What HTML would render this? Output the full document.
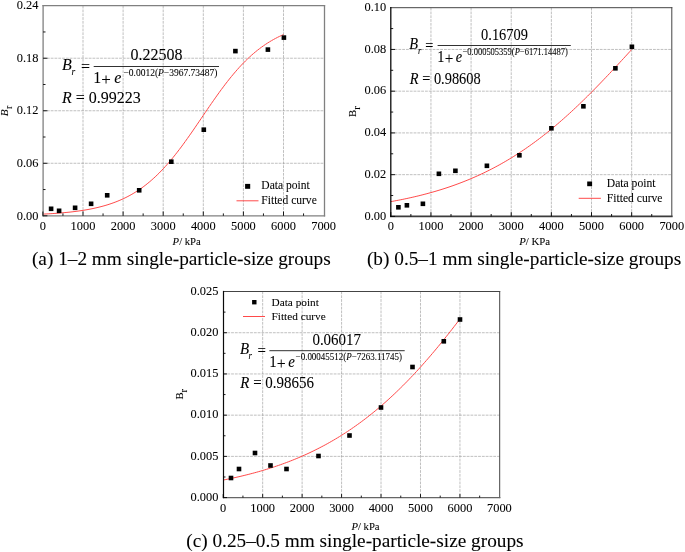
<!DOCTYPE html>
<html><head><meta charset="utf-8"><title>Fitted curves</title>
<style>
html,body{margin:0;padding:0;background:#fff;}
svg{display:block;will-change:transform;opacity:0.999;}
text{font-family:"Liberation Serif",serif;fill:#000;stroke:#000;stroke-width:0.07px;}
.it{font-style:italic;}
</style></head><body>
<svg width="685" height="552" viewBox="0 0 685 552">
<rect width="685" height="552" fill="#fff"/>
<g id="panel-a">
<path d="M83.00 5.70V215.80M123.10 5.70V215.80M163.20 5.70V215.80M203.30 5.70V215.80M243.40 5.70V215.80M283.50 5.70V215.80M43.10 163.28H324.50M43.10 110.75H324.50M43.10 58.22H324.50" fill="none" stroke="#969696" stroke-width="0.6" stroke-dasharray="2.8 1.0"/>
<path d="M42.90 214.13L44.91 214.03L46.91 213.92L48.91 213.80L50.92 213.68L52.92 213.55L54.93 213.41L56.93 213.27L58.94 213.11L60.94 212.95L62.95 212.78L64.95 212.59L66.96 212.40L68.97 212.19L70.97 211.97L72.97 211.74L74.98 211.49L76.98 211.23L78.99 210.96L81.00 210.67L83.00 210.36L85.00 210.03L87.01 209.69L89.01 209.32L91.02 208.93L93.02 208.52L95.03 208.09L97.03 207.64L99.04 207.15L101.04 206.64L103.05 206.10L105.05 205.54L107.06 204.94L109.06 204.30L111.07 203.64L113.07 202.93L115.08 202.19L117.08 201.41L119.09 200.59L121.09 199.73L123.10 198.82L125.10 197.87L127.11 196.86L129.11 195.81L131.12 194.71L133.12 193.55L135.13 192.34L137.13 191.07L139.14 189.74L141.14 188.36L143.15 186.91L145.16 185.40L147.16 183.82L149.16 182.18L151.17 180.48L153.17 178.70L155.18 176.86L157.19 174.95L159.19 172.98L161.19 170.93L163.20 168.82L165.20 166.64L167.21 164.39L169.21 162.08L171.22 159.70L173.22 157.27L175.23 154.77L177.23 152.21L179.24 149.60L181.25 146.94L183.25 144.23L185.25 141.47L187.26 138.67L189.26 135.84L191.27 132.97L193.28 130.08L195.28 127.16L197.28 124.23L199.29 121.28L201.29 118.33L203.30 115.37L205.30 112.42L207.31 109.48L209.31 106.55L211.32 103.64L213.32 100.75L215.33 97.90L217.33 95.07L219.34 92.29L221.34 89.54L223.35 86.85L225.35 84.20L227.36 81.60L229.36 79.06L231.37 76.58L233.38 74.16L235.38 71.80L237.38 69.51L239.39 67.28L241.39 65.12L243.40 63.03L245.41 61.00L247.41 59.05L249.41 57.16L251.42 55.34L253.42 53.58L255.43 51.90L257.44 50.27L259.44 48.72L261.44 47.23L263.45 45.80L265.45 44.43L267.46 43.12L269.46 41.86L271.47 40.67L273.47 39.53L275.48 38.44L277.48 37.40L279.49 36.41L281.49 35.47L283.50 34.58" fill="none" stroke="#ff4a4a" stroke-width="1"/>
<path d="M43.10 5.70H324.50" fill="none" stroke="#808080" stroke-width="1.3" stroke-linecap="square"/>
<path d="M324.50 5.70V215.80" fill="none" stroke="#808080" stroke-width="1.3" stroke-linecap="square"/>
<path d="M43.10 215.80H324.50" fill="none" stroke="#808080" stroke-width="1.3" stroke-linecap="square"/>
<path d="M43.10 5.70V215.80" fill="none" stroke="#808080" stroke-width="1.3" stroke-linecap="square"/>
<path d="M42.90 215.80v-4.3M62.95 215.80v-2.4M83.00 215.80v-4.3M103.05 215.80v-2.4M123.10 215.80v-4.3M143.15 215.80v-2.4M163.20 215.80v-4.3M183.25 215.80v-2.4M203.30 215.80v-4.3M223.35 215.80v-2.4M243.40 215.80v-4.3M263.45 215.80v-2.4M283.50 215.80v-4.3M303.55 215.80v-2.4M43.10 215.80h4.3M43.10 189.54h2.4M43.10 163.28h4.3M43.10 137.01h2.4M43.10 110.75h4.3M43.10 84.49h2.4M43.10 58.22h4.3M43.10 31.96h2.4" fill="none" stroke="#000" stroke-width="0.9"/>
<rect x="48.80" y="206.50" width="4.6" height="4.6" fill="#000"/>
<rect x="56.80" y="208.50" width="4.6" height="4.6" fill="#000"/>
<rect x="72.80" y="205.50" width="4.6" height="4.6" fill="#000"/>
<rect x="88.80" y="201.50" width="4.6" height="4.6" fill="#000"/>
<rect x="104.90" y="193.00" width="4.6" height="4.6" fill="#000"/>
<rect x="136.90" y="188.00" width="4.6" height="4.6" fill="#000"/>
<rect x="169.00" y="159.40" width="4.6" height="4.6" fill="#000"/>
<rect x="201.50" y="127.40" width="4.6" height="4.6" fill="#000"/>
<rect x="233.10" y="48.80" width="4.6" height="4.6" fill="#000"/>
<rect x="265.60" y="47.30" width="4.6" height="4.6" fill="#000"/>
<rect x="281.60" y="35.30" width="4.6" height="4.6" fill="#000"/>
<text x="42.90" y="230.20" font-size="12.4" text-anchor="middle">0</text>
<text x="83.00" y="230.20" font-size="12.4" text-anchor="middle">1000</text>
<text x="123.10" y="230.20" font-size="12.4" text-anchor="middle">2000</text>
<text x="163.20" y="230.20" font-size="12.4" text-anchor="middle">3000</text>
<text x="203.30" y="230.20" font-size="12.4" text-anchor="middle">4000</text>
<text x="243.40" y="230.20" font-size="12.4" text-anchor="middle">5000</text>
<text x="283.50" y="230.20" font-size="12.4" text-anchor="middle">6000</text>
<text x="323.60" y="230.20" font-size="12.4" text-anchor="middle">7000</text>
<text x="38.50" y="219.50" font-size="12.4" text-anchor="end">0.00</text>
<text x="38.50" y="166.97" font-size="12.4" text-anchor="end">0.06</text>
<text x="38.50" y="114.45" font-size="12.4" text-anchor="end">0.12</text>
<text x="38.50" y="61.92" font-size="12.4" text-anchor="end">0.18</text>
<text x="38.50" y="9.40" font-size="12.4" text-anchor="end">0.24</text>
</g>
<g id="panel-b">
<path d="M430.94 7.70V216.40M471.09 7.70V216.40M511.23 7.70V216.40M551.37 7.70V216.40M591.51 7.70V216.40M631.66 7.70V216.40M390.80 174.66H671.80M390.80 132.92H671.80M390.80 91.18H671.80M390.80 49.44H671.80" fill="none" stroke="#969696" stroke-width="0.6" stroke-dasharray="2.8 1.0"/>
<path d="M390.80 201.63L392.81 201.27L394.81 200.90L396.82 200.52L398.83 200.14L400.84 199.74L402.84 199.33L404.85 198.92L406.86 198.50L408.86 198.06L410.87 197.62L412.88 197.16L414.89 196.70L416.89 196.22L418.90 195.74L420.91 195.24L422.91 194.73L424.92 194.21L426.93 193.68L428.94 193.14L430.94 192.59L432.95 192.02L434.96 191.44L436.96 190.85L438.97 190.24L440.98 189.63L442.99 188.99L444.99 188.35L447.00 187.69L449.01 187.02L451.01 186.33L453.02 185.63L455.03 184.91L457.04 184.18L459.04 183.44L461.05 182.67L463.06 181.90L465.06 181.10L467.07 180.29L469.08 179.47L471.09 178.62L473.09 177.76L475.10 176.89L477.11 175.99L479.11 175.08L481.12 174.15L483.13 173.21L485.14 172.24L487.14 171.26L489.15 170.25L491.16 169.23L493.16 168.19L495.17 167.13L497.18 166.06L499.19 164.96L501.19 163.84L503.20 162.70L505.21 161.54L507.21 160.36L509.22 159.17L511.23 157.95L513.24 156.71L515.24 155.45L517.25 154.17L519.26 152.86L521.26 151.54L523.27 150.19L525.28 148.83L527.29 147.44L529.29 146.03L531.30 144.60L533.31 143.15L535.31 141.68L537.32 140.18L539.33 138.67L541.34 137.13L543.34 135.57L545.35 133.99L547.36 132.39L549.36 130.77L551.37 129.13L553.38 127.47L555.39 125.78L557.39 124.08L559.40 122.35L561.41 120.60L563.41 118.84L565.42 117.05L567.43 115.25L569.44 113.43L571.44 111.58L573.45 109.72L575.46 107.84L577.46 105.94L579.47 104.03L581.48 102.09L583.49 100.14L585.49 98.18L587.50 96.19L589.51 94.20L591.51 92.18L593.52 90.16L595.53 88.11L597.54 86.06L599.54 83.99L601.55 81.91L603.56 79.81L605.56 77.71L607.57 75.59L609.58 73.47L611.59 71.33L613.59 69.18L615.60 67.03L617.61 64.87L619.61 62.70L621.62 60.53L623.63 58.35L625.64 56.16L627.64 53.97L629.65 51.77L631.66 49.58" fill="none" stroke="#ff4a4a" stroke-width="1"/>
<path d="M390.80 7.70H671.80" fill="none" stroke="#444" stroke-width="1.0" stroke-linecap="square"/>
<path d="M671.80 7.70V216.40" fill="none" stroke="#444" stroke-width="1.0" stroke-linecap="square"/>
<path d="M390.80 216.40H671.80" fill="none" stroke="#3c3c3c" stroke-width="1.6" stroke-linecap="square"/>
<path d="M390.80 7.70V216.40" fill="none" stroke="#0a0a0a" stroke-width="1.3" stroke-linecap="square"/>
<path d="M390.80 216.40v-4.3M410.87 216.40v-2.4M430.94 216.40v-4.3M451.01 216.40v-2.4M471.09 216.40v-4.3M491.16 216.40v-2.4M511.23 216.40v-4.3M531.30 216.40v-2.4M551.37 216.40v-4.3M571.44 216.40v-2.4M591.51 216.40v-4.3M611.59 216.40v-2.4M631.66 216.40v-4.3M651.73 216.40v-2.4M390.80 216.40h4.3M390.80 195.53h2.4M390.80 174.66h4.3M390.80 153.79h2.4M390.80 132.92h4.3M390.80 112.05h2.4M390.80 91.18h4.3M390.80 70.31h2.4M390.80 49.44h4.3M390.80 28.57h2.4" fill="none" stroke="#000" stroke-width="0.9"/>
<rect x="396.10" y="205.00" width="4.6" height="4.6" fill="#000"/>
<rect x="404.60" y="203.00" width="4.6" height="4.6" fill="#000"/>
<rect x="420.60" y="201.50" width="4.6" height="4.6" fill="#000"/>
<rect x="436.60" y="171.50" width="4.6" height="4.6" fill="#000"/>
<rect x="453.10" y="168.50" width="4.6" height="4.6" fill="#000"/>
<rect x="484.60" y="163.50" width="4.6" height="4.6" fill="#000"/>
<rect x="517.10" y="153.00" width="4.6" height="4.6" fill="#000"/>
<rect x="549.10" y="126.00" width="4.6" height="4.6" fill="#000"/>
<rect x="581.10" y="104.00" width="4.6" height="4.6" fill="#000"/>
<rect x="613.10" y="66.00" width="4.6" height="4.6" fill="#000"/>
<rect x="629.60" y="44.50" width="4.6" height="4.6" fill="#000"/>
<text x="390.80" y="229.90" font-size="12.4" text-anchor="middle">0</text>
<text x="430.94" y="229.90" font-size="12.4" text-anchor="middle">1000</text>
<text x="471.09" y="229.90" font-size="12.4" text-anchor="middle">2000</text>
<text x="511.23" y="229.90" font-size="12.4" text-anchor="middle">3000</text>
<text x="551.37" y="229.90" font-size="12.4" text-anchor="middle">4000</text>
<text x="591.51" y="229.90" font-size="12.4" text-anchor="middle">5000</text>
<text x="631.66" y="229.90" font-size="12.4" text-anchor="middle">6000</text>
<text x="671.80" y="229.90" font-size="12.4" text-anchor="middle">7000</text>
<text x="386.20" y="219.60" font-size="12.4" text-anchor="end">0.00</text>
<text x="386.20" y="177.86" font-size="12.4" text-anchor="end">0.02</text>
<text x="386.20" y="136.12" font-size="12.4" text-anchor="end">0.04</text>
<text x="386.20" y="94.38" font-size="12.4" text-anchor="end">0.06</text>
<text x="386.20" y="52.64" font-size="12.4" text-anchor="end">0.08</text>
<text x="386.20" y="10.90" font-size="12.4" text-anchor="end">0.10</text>
</g>
<g id="panel-c">
<path d="M262.66 291.50V497.60M302.11 291.50V497.60M341.57 291.50V497.60M381.03 291.50V497.60M420.49 291.50V497.60M459.94 291.50V497.60M223.50 456.38H499.70M223.50 415.16H499.70M223.50 373.94H499.70M223.50 332.72H499.70" fill="none" stroke="#969696" stroke-width="0.6" stroke-dasharray="2.8 1.0"/>
<path d="M223.20 480.05L225.17 479.66L227.15 479.26L229.12 478.86L231.09 478.44L233.06 478.02L235.04 477.59L237.01 477.14L238.98 476.69L240.96 476.23L242.93 475.76L244.90 475.28L246.87 474.79L248.85 474.29L250.82 473.78L252.79 473.26L254.77 472.73L256.74 472.19L258.71 471.63L260.68 471.07L262.66 470.49L264.63 469.90L266.60 469.30L268.58 468.68L270.55 468.06L272.52 467.42L274.49 466.77L276.47 466.10L278.44 465.43L280.41 464.73L282.39 464.03L284.36 463.31L286.33 462.58L288.30 461.83L290.28 461.07L292.25 460.29L294.22 459.49L296.20 458.69L298.17 457.86L300.14 457.02L302.11 456.17L304.09 455.29L306.06 454.41L308.03 453.50L310.01 452.58L311.98 451.64L313.95 450.68L315.92 449.70L317.90 448.71L319.87 447.70L321.84 446.67L323.82 445.62L325.79 444.55L327.76 443.46L329.73 442.35L331.71 441.23L333.68 440.08L335.65 438.91L337.63 437.72L339.60 436.52L341.57 435.29L343.54 434.04L345.52 432.76L347.49 431.47L349.46 430.16L351.44 428.82L353.41 427.46L355.38 426.08L357.35 424.67L359.33 423.25L361.30 421.80L363.27 420.32L365.25 418.83L367.22 417.31L369.19 415.76L371.16 414.20L373.14 412.61L375.11 410.99L377.08 409.35L379.06 407.69L381.03 406.00L383.00 404.29L384.97 402.55L386.95 400.79L388.92 399.01L390.89 397.20L392.87 395.36L394.84 393.50L396.81 391.62L398.78 389.71L400.76 387.78L402.73 385.82L404.70 383.84L406.68 381.83L408.65 379.80L410.62 377.74L412.59 375.66L414.57 373.56L416.54 371.43L418.51 369.27L420.49 367.10L422.46 364.90L424.43 362.67L426.40 360.43L428.38 358.16L430.35 355.87L432.32 353.55L434.30 351.21L436.27 348.85L438.24 346.47L440.21 344.07L442.19 341.65L444.16 339.21L446.13 336.74L448.11 334.26L450.08 331.76L452.05 329.24L454.02 326.70L456.00 324.14L457.97 321.56L459.94 318.97" fill="none" stroke="#ff4a4a" stroke-width="1"/>
<path d="M223.50 291.50H499.70" fill="none" stroke="#444" stroke-width="1.0" stroke-linecap="square"/>
<path d="M499.70 291.50V497.60" fill="none" stroke="#444" stroke-width="1.0" stroke-linecap="square"/>
<path d="M223.50 497.60H499.70" fill="none" stroke="#666" stroke-width="1.4" stroke-linecap="square"/>
<path d="M223.50 291.50V497.60" fill="none" stroke="#0a0a0a" stroke-width="1.2" stroke-linecap="square"/>
<path d="M223.20 497.60v-3.5M242.93 497.60v-2.0M262.66 497.60v-3.5M282.39 497.60v-2.0M302.11 497.60v-3.5M321.84 497.60v-2.0M341.57 497.60v-3.5M361.30 497.60v-2.0M381.03 497.60v-3.5M400.76 497.60v-2.0M420.49 497.60v-3.5M440.21 497.60v-2.0M459.94 497.60v-3.5M479.67 497.60v-2.0M223.50 497.60h3.5M223.50 476.99h2.0M223.50 456.38h3.5M223.50 435.77h2.0M223.50 415.16h3.5M223.50 394.55h2.0M223.50 373.94h3.5M223.50 353.33h2.0M223.50 332.72h3.5M223.50 312.11h2.0" fill="none" stroke="#000" stroke-width="0.9"/>
<rect x="228.70" y="475.70" width="4.6" height="4.6" fill="#000"/>
<rect x="236.70" y="466.70" width="4.6" height="4.6" fill="#000"/>
<rect x="252.70" y="450.70" width="4.6" height="4.6" fill="#000"/>
<rect x="268.20" y="463.20" width="4.6" height="4.6" fill="#000"/>
<rect x="284.20" y="466.70" width="4.6" height="4.6" fill="#000"/>
<rect x="316.20" y="453.70" width="4.6" height="4.6" fill="#000"/>
<rect x="347.20" y="433.20" width="4.6" height="4.6" fill="#000"/>
<rect x="378.70" y="405.20" width="4.6" height="4.6" fill="#000"/>
<rect x="410.20" y="364.70" width="4.6" height="4.6" fill="#000"/>
<rect x="441.50" y="339.00" width="4.6" height="4.6" fill="#000"/>
<rect x="457.70" y="317.20" width="4.6" height="4.6" fill="#000"/>
<text x="223.20" y="511.60" font-size="12.4" text-anchor="middle">0</text>
<text x="262.66" y="511.60" font-size="12.4" text-anchor="middle">1000</text>
<text x="302.11" y="511.60" font-size="12.4" text-anchor="middle">2000</text>
<text x="341.57" y="511.60" font-size="12.4" text-anchor="middle">3000</text>
<text x="381.03" y="511.60" font-size="12.4" text-anchor="middle">4000</text>
<text x="420.49" y="511.60" font-size="12.4" text-anchor="middle">5000</text>
<text x="459.94" y="511.60" font-size="12.4" text-anchor="middle">6000</text>
<text x="499.40" y="511.60" font-size="12.4" text-anchor="middle">7000</text>
<text x="218.40" y="500.80" font-size="12.4" text-anchor="end">0.000</text>
<text x="218.40" y="459.58" font-size="12.4" text-anchor="end">0.005</text>
<text x="218.40" y="418.36" font-size="12.4" text-anchor="end">0.010</text>
<text x="218.40" y="377.14" font-size="12.4" text-anchor="end">0.015</text>
<text x="218.40" y="335.92" font-size="12.4" text-anchor="end">0.020</text>
<text x="218.40" y="294.70" font-size="12.4" text-anchor="end">0.025</text>
</g>
<g id="text-a">
<text x="172.6" y="244.9" font-size="10.7"><tspan class="it">P</tspan>/ kPa</text>
<text transform="translate(7.7,116.3) rotate(-90)" font-size="11.2"><tspan class="it">B</tspan><tspan dx="0.5" dy="4.3" font-size="10">r</tspan></text>
<text x="181.3" y="264.9" font-size="19.3" text-anchor="middle">(a) 1–2 mm single-particle-size groups</text>
<rect x="245.1" y="183.9" width="5.1" height="4.9" fill="#000"/>
<path d="M236.5 200.8H258.5" stroke="#ff4a4a" stroke-width="1"/>
<text x="261.3" y="189.1" font-size="11.55">Data point</text>
<text x="261.3" y="203.6" font-size="11.55">Fitted curve</text>

<text transform="translate(62,70) scale(1.0,1)" font-size="16" class="it">B</text>
<text transform="translate(71.4,74.8) scale(1.0,1)" font-size="9.6" class="it">r</text>
<text transform="translate(80.9,71.7) scale(1.0,1)" font-size="16">=</text>
<path d="M93.7 66.5H219" stroke="#1a1a1a" stroke-width="0.9"/>
<text transform="translate(156.4,59.8) scale(1.0,1)" font-size="16" text-anchor="middle">0.22508</text>
<text transform="translate(93.2,82.6) scale(1.0,1)" font-size="16">1</text>
<text transform="translate(101.3,84.6) scale(1.0,1)" font-size="17">+</text>
<text transform="translate(114.2,82.6) scale(1.0,1)" font-size="16" class="it">e</text>
<text transform="translate(123.4,75.9) scale(1.0,1)" font-size="9.5">−0.0012(<tspan class="it">P</tspan>−3967.73487)</text>
<text transform="translate(62,102.8) scale(1.0,1)" font-size="16"><tspan class="it">R</tspan> = 0.99223</text>
</g>
<g id="text-b">
<text x="519.2" y="244.9" font-size="10.8"><tspan class="it">P</tspan>/ KPa</text>
<text transform="translate(356,116.9) rotate(-90)" font-size="10.8">B<tspan dy="4.2" font-size="10.5">r</tspan></text>
<text x="524.1" y="265.0" font-size="19.3" text-anchor="middle">(b) 0.5–1 mm single-particle-size groups</text>
<rect x="587.2" y="181.5" width="4.9" height="4.7" fill="#000"/>
<path d="M578.7 198.3H600.9" stroke="#ff4a4a" stroke-width="1"/>
<text x="606.8" y="187.4" font-size="11.6">Data point</text>
<text x="606.8" y="201.8" font-size="11.6">Fitted curve</text>

<text transform="translate(409.2,48.8) scale(0.9,1)" font-size="16" class="it">B</text>
<text transform="translate(418.0,53.8) scale(0.9,1)" font-size="9.6" class="it">r</text>
<text transform="translate(425.3,51.1) scale(0.9,1)" font-size="16">=</text>
<path d="M437.6 45.5H570.8" stroke="#1a1a1a" stroke-width="0.9"/>
<text transform="translate(504.5,39.7) scale(0.9,1)" font-size="16" text-anchor="middle">0.16709</text>
<text transform="translate(437.2,62) scale(0.9,1)" font-size="16">1</text>
<text transform="translate(444.7,64) scale(0.9,1)" font-size="17">+</text>
<text transform="translate(455.7,62) scale(0.9,1)" font-size="16" class="it">e</text>
<text transform="translate(462.5,54.9) scale(0.9,1)" font-size="9.45">−0.000505359(<tspan class="it">P</tspan>−6171.14487)</text>
<text transform="translate(409.8,84.4) scale(0.9,1)" font-size="16"><tspan class="it">R</tspan> = 0.98608</text>
</g>
<g id="text-c">
<text x="351.4" y="529.6" font-size="10.7"><tspan class="it">P</tspan>/ kPa</text>
<text transform="translate(183.2,399.6) rotate(-90)" font-size="10.8">B<tspan dy="4.2" font-size="10.5">r</tspan></text>
<text x="354.9" y="546.7" font-size="19.3" text-anchor="middle">(c) 0.25–0.5 mm single-particle-size groups</text>
<rect x="252.1" y="300" width="4.4" height="4.4" fill="#000"/>
<path d="M243 316.5H265" stroke="#ff4a4a" stroke-width="1"/>
<text x="271.5" y="305.5" font-size="11.3">Data point</text>
<text x="271.5" y="319.5" font-size="11.3">Fitted curve</text>

<text transform="translate(240.1,354.4) scale(0.935,1)" font-size="16" class="it">B</text>
<text transform="translate(248.6,358.8) scale(0.935,1)" font-size="9.6" class="it">r</text>
<text transform="translate(257.4,356.3) scale(0.935,1)" font-size="16">=</text>
<path d="M269.4 350.7H404.7" stroke="#1a1a1a" stroke-width="0.9"/>
<text transform="translate(336.7,344.7) scale(0.935,1)" font-size="16" text-anchor="middle">0.06017</text>
<text transform="translate(269.2,367) scale(0.935,1)" font-size="16">1</text>
<text transform="translate(276.8,369) scale(0.935,1)" font-size="17">+</text>
<text transform="translate(288.3,367) scale(0.935,1)" font-size="16" class="it">e</text>
<text transform="translate(295.6,360) scale(0.935,1)" font-size="9.6">−0.00045512(<tspan class="it">P</tspan>−7263.11745)</text>
<text transform="translate(240.3,388.1) scale(0.935,1)" font-size="16"><tspan class="it">R</tspan> = 0.98656</text>
</g>
</svg></body></html>
